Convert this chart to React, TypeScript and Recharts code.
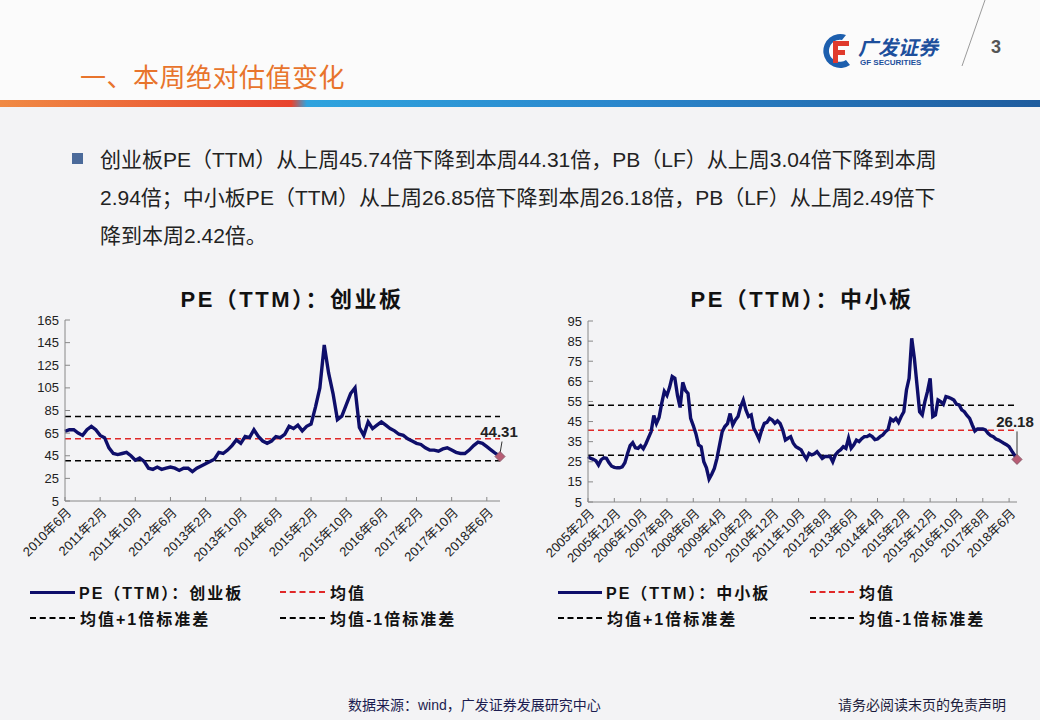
import React from 'react'
import { LineChart, Line, XAxis, YAxis, ReferenceLine } from 'recharts'

// 创业板 PE(TTM), monthly from 2010年6月
const CYB_START: [number, number] = [2010, 6]
const CYB_PE = [
  66.5, 68, 68, 65, 63, 68, 71, 68, 63, 61,
  52, 47, 46, 47, 48, 45, 41, 43, 40, 34,
  33, 35, 33, 34, 35, 34, 32, 34, 34, 31,
  34, 36, 38, 40, 42, 48, 47, 50, 54, 59,
  56, 62, 61, 68, 62, 58, 56, 58, 62, 61,
  64, 71, 69, 72, 67, 71, 73, 88, 105, 143,
  118, 100, 77, 80, 90, 100, 105, 70, 63, 75,
  69, 72, 75, 72, 69, 67, 64, 63, 60, 58,
  56, 55, 52, 50, 50, 49, 51, 52, 50, 48,
  47, 47, 50, 54, 57, 56, 53, 50, 47, 44.31,
]
const CYB_MEAN = 60.1
const CYB_STD = 19.5
const CYB_TICKS = [5, 25, 45, 65, 85, 105, 125, 145, 165]

// 中小板 PE(TTM), monthly from 2005年2月
const ZXB_START: [number, number] = [2005, 2]
const ZXB_PE = [
  27.6, 26.7, 26.2, 25.5, 23.4, 26, 27, 26.7, 24.5, 22.8,
  22.2, 22, 22, 22.5, 24.5, 29, 33, 34.5, 32, 31.7,
  33, 31.5, 34, 37, 40, 48, 44, 47, 54, 60,
  58, 62, 67.4, 66.5, 58, 52, 64.5, 60.5, 59, 46.6,
  43, 39, 33.4, 32.5, 25, 22, 16.4, 18.8, 21.7, 26.7,
  33.4, 40, 42.5, 44, 49, 43.3, 45.8, 47.5, 52.4, 55.7,
  50.8, 47.5, 48.3, 41.6, 39.2, 36.3, 40.8, 44.1, 44.6, 46.6,
  45.8, 44.1, 45.3, 44, 40.8, 35.8, 36.7, 37.5, 34.2, 32.5,
  31.7, 30.9, 28.4, 26.4, 29.2, 28.4, 29, 30, 28.4, 26.7,
  27.6, 27.6, 27.6, 25, 28.4, 30, 31, 32.5, 31.7, 36.7,
  31.7, 33.4, 35.8, 35, 36.5, 37.5, 37.5, 38.3, 37.5, 36,
  36.3, 37.5, 38.3, 40, 41, 46.3, 45.3, 46.6, 44.6, 47.5,
  49.9, 60.7, 66.5, 86.4, 76.5, 63.2, 49.9, 48.3, 54.9, 60,
  66.5, 47.5, 48.3, 55.7, 54.9, 53.6, 57.4, 57, 56.5, 55.7,
  53.6, 53.3, 50.8, 49.9, 48, 46.6, 43.3, 40.3, 41.3, 41.3,
  41.3, 40.8, 39.2, 38, 37.5, 36.3, 35.8, 35, 34.2, 33.5,
  32.5, 30.4, 28.4, 26.18,
]
const ZXB_MEAN = 40.7
const ZXB_STD = 12.4
const ZXB_TICKS = [5, 15, 25, 35, 45, 55, 65, 75, 85, 95]

const NAVY = '#0e0e6a'
const RED = '#e02828'
const FONT = 'Arial, "Liberation Sans", "Noto Sans CJK SC", sans-serif'

function monthLabels(start: [number, number], n: number) {
  const out: string[] = []
  let [y, m] = start
  for (let i = 0; i < n; i++) {
    out.push(`${y}年${m}月`)
    m++
    if (m > 12) { m = 1; y++ }
  }
  return out
}

function buildRows(start: [number, number], values: number[]) {
  const labels = monthLabels(start, values.length)
  return values.map((v, i) => ({ m: labels[i], pe: v }))
}

function XTick({ x, y, payload }: any) {
  return (
    <g transform={`translate(${x},${y})`}>
      <line x1={0} y1={0} x2={0} y2={-4} stroke="#888" />
      <text
        x={4} y={9}
        transform="rotate(-45, 4, 9)"
        textAnchor="end"
        dy="0.35em"
        fontSize={13}
        fill="#222"
        fontFamily={FONT}
      >
        {payload.value}
      </text>
    </g>
  )
}

function YTick({ x, y, payload }: any) {
  return (
    <g transform={`translate(${x},${y})`}>
      <line x1={0} y1={0} x2={5} y2={0} stroke="#888" />
      <text x={-6} y={0} dy="0.35em" textAnchor="end" fontSize={13} fill="#222" fontFamily={FONT}>
        {payload.value}
      </text>
    </g>
  )
}

function lastDot(count: number, labelDx: number, labelDy: number, leader: 'slant' | 'vertical') {
  return (p: any) => {
    if (p.index !== count - 1) return <g key={`d${p.index}`} />
    const { cx, cy, value } = p
    const tx = cx + labelDx
    const ty = cy + labelDy
    return (
      <g key="last">
        {leader === 'slant'
          ? <line x1={cx + 2} y1={ty + 5} x2={cx} y2={cy - 3} stroke="#333" strokeWidth={1} />
          : <line x1={cx} y1={ty + 4} x2={cx} y2={cy - 3} stroke="#333" strokeWidth={1} />}
        <path d={`M${cx},${cy - 5} L${cx + 5},${cy} L${cx},${cy + 5} L${cx - 5},${cy} Z`} fill="#b85c74" stroke="#8a5a6a" strokeWidth={1} />
        <text x={tx} y={ty} textAnchor="middle" fontSize={15} fontWeight="bold" fill="#222" fontFamily={FONT}>
          {Number(value).toFixed(2)}
        </text>
      </g>
    )
  }
}

function PeChart({ rows, ticks, mean, std, interval, width, margin, yWidth, label }: any) {
  const [lo, hi] = [ticks[0], ticks[ticks.length - 1]]
  return (
    <LineChart width={width} height={270} data={rows} margin={margin}>
      <XAxis
        dataKey="m"
        interval={interval}
        height={margin.xh}
        tickSize={0}
        tickMargin={0}
        tickLine={false}
        axisLine={{ stroke: '#888' }}
        tick={(p: any) => <XTick {...p} />}
      />
      <YAxis
        type="number"
        domain={[lo, hi]}
        ticks={ticks}
        interval={0}
        width={yWidth}
        tickSize={0}
        tickMargin={0}
        tickLine={false}
        axisLine={{ stroke: '#888' }}
        tick={(p: any) => <YTick {...p} />}
      />
      <ReferenceLine y={mean + std} stroke="#000" strokeDasharray="6 4" strokeWidth={1.5} />
      <ReferenceLine y={mean} stroke={RED} strokeDasharray="6 4" strokeWidth={1.5} />
      <ReferenceLine y={mean - std} stroke="#000" strokeDasharray="6 4" strokeWidth={1.5} />
      <Line
        type="linear"
        dataKey="pe"
        stroke={NAVY}
        strokeWidth={3.4}
        dot={label}
        activeDot={false}
        isAnimationActive={false}
      />
    </LineChart>
  )
}

function Dash({ color, w }: { color: string; w: number }) {
  return <span style={{ display: 'inline-block', width: w, borderTop: `2px dashed ${color}`, verticalAlign: 'middle', marginRight: 5 }} />
}

function Legend({ left, name, lineW, col2 }: any) {
  const txt: React.CSSProperties = { fontSize: 16, fontWeight: 'bold', color: '#111', letterSpacing: 2, verticalAlign: 'middle' }
  const row: React.CSSProperties = { position: 'absolute', whiteSpace: 'nowrap', display: 'flex', alignItems: 'center' }
  return (
    <>
      <div style={{ ...row, left, top: 580 }}>
        <span style={{ display: 'inline-block', width: lineW, height: 3, background: NAVY, marginRight: 4 }} />
        <span style={txt}>{name}</span>
      </div>
      <div style={{ ...row, left: left + col2, top: 580 }}>
        <Dash color={RED} w={lineW} />
        <span style={txt}>均值</span>
      </div>
      <div style={{ ...row, left, top: 606 }}>
        <Dash color="#000" w={lineW} />
        <span style={txt}>均值+1倍标准差</span>
      </div>
      <div style={{ ...row, left: left + col2, top: 606 }}>
        <Dash color="#000" w={lineW} />
        <span style={txt}>均值-1倍标准差</span>
      </div>
    </>
  )
}

function Logo() {
  return (
    <div style={{ position: 'absolute', left: 820, top: 32, width: 130, height: 40 }}>
      <svg width={36} height={38} style={{ position: 'absolute', left: 0, top: 0 }}>
        <path d="M26,3 A17,17 0 1,0 30,33 L26,28 A11,11 0 1,1 22,8 Z" fill="#1d5fae" />
        <rect x={13} y={9} width={16} height={5} fill="#e03a2c" />
        <rect x={13} y={9} width={5} height={22} fill="#e03a2c" />
        <rect x={13} y={18} width={12} height={5} fill="#e03a2c" />
      </svg>
      <div style={{ position: 'absolute', left: 38, top: 0, fontSize: 20, fontWeight: 'bold', fontStyle: 'italic', color: '#1d4f9c', letterSpacing: 0, whiteSpace: 'nowrap' }}>广发证券</div>
      <div style={{ position: 'absolute', left: 40, top: 26, fontSize: 8, fontWeight: 'bold', color: '#1d4f9c', whiteSpace: 'nowrap', fontFamily: 'Arial, sans-serif' }}>GF SECURITIES</div>
    </div>
  )
}

export default function App() {
  const cybRows = buildRows(CYB_START, CYB_PE)
  const zxbRows = buildRows(ZXB_START, ZXB_PE)
  const chartTitle: React.CSSProperties = { position: 'absolute', top: 281, textAlign: 'center', fontSize: 22, fontWeight: 'bold', color: '#111', whiteSpace: 'nowrap', letterSpacing: 2.5 }
  return (
    <div style={{ position: 'absolute', left: 0, top: 0, width: 1040, height: 720, overflow: 'hidden', background: '#f3f3f5', fontFamily: FONT }}>
      <div style={{ position: 'absolute', left: 0, top: 0, width: 1040, height: 100, background: '#fbfbfb' }} />
      <Logo />
      <svg width={1040} height={110} style={{ position: 'absolute', left: 0, top: 0 }}>
        <line x1={985} y1={0} x2={962} y2={66} stroke="#9a9a9a" strokeWidth={1} />
      </svg>
      <div style={{ position: 'absolute', left: 991, top: 37, fontSize: 18, color: '#555', fontWeight: 'bold' }}>3</div>
      <div style={{ position: 'absolute', left: 80, top: 57, fontSize: 26, color: '#e8742c', whiteSpace: 'nowrap', letterSpacing: 0.5, fontFamily: '"Noto Sans CJK SC", sans-serif' }}>一、本周绝对估值变化</div>
      <div style={{ position: 'absolute', left: 0, top: 100, width: 1040, height: 7, background: 'linear-gradient(90deg, #f08a44 0%, #e8432e 28%, #2fa3de 29.5%, #2a86cc 60%, #1f5c9e 100%)' }} />

      <div style={{ position: 'absolute', left: 72, top: 153, width: 11, height: 11, background: '#4b6a9a' }} />
      <div style={{ position: 'absolute', left: 100, top: 141, fontSize: 21, lineHeight: '38px', color: '#222', whiteSpace: 'nowrap' }}>
        创业板PE（TTM）从上周45.74倍下降到本周44.31倍，PB（LF）从上周3.04倍下降到本周<br />
        2.94倍；中小板PE（TTM）从上周26.85倍下降到本周26.18倍，PB（LF）从上周2.49倍下<br />
        降到本周2.42倍。
      </div>

      <div style={{ ...chartTitle, left: 0, width: 584 }}>PE（TTM）：创业板</div>
      <div style={{ ...chartTitle, left: 540, width: 524 }}>PE（TTM）：中小板</div>

      <div style={{ position: 'absolute', left: 0, top: 300 }}>
        <PeChart
          rows={cybRows}
          ticks={CYB_TICKS}
          mean={CYB_MEAN}
          std={CYB_STD}
          interval={7}
          width={520}
          yWidth={45}
          margin={{ top: 20, right: 20, bottom: 0, left: 20, xh: 69 }}
          label={lastDot(CYB_PE.length, -1, -20, 'slant')}
        />
      </div>
      <div style={{ position: 'absolute', left: 540, top: 300 }}>
        <PeChart
          rows={zxbRows}
          ticks={ZXB_TICKS}
          mean={ZXB_MEAN}
          std={ZXB_STD}
          interval={9}
          width={500}
          yWidth={30}
          margin={{ top: 21, right: 23, bottom: 0, left: 18, xh: 68 }}
          label={lastDot(ZXB_PE.length, -2, -32, 'vertical')}
        />
      </div>

      <Legend left={30} name="PE（TTM）：创业板" lineW={45} col2={250} />
      <Legend left={558} name="PE（TTM）：中小板" lineW={44} col2={252} />

      <div style={{ position: 'absolute', left: 348, top: 694, fontSize: 14, color: '#1c1c50', whiteSpace: 'nowrap' }}>数据来源：wind，广发证券发展研究中心</div>
      <div style={{ position: 'absolute', left: 838, top: 694, fontSize: 14, color: '#1c1c3c', whiteSpace: 'nowrap' }}>请务必阅读末页的免责声明</div>
    </div>
  )
}
